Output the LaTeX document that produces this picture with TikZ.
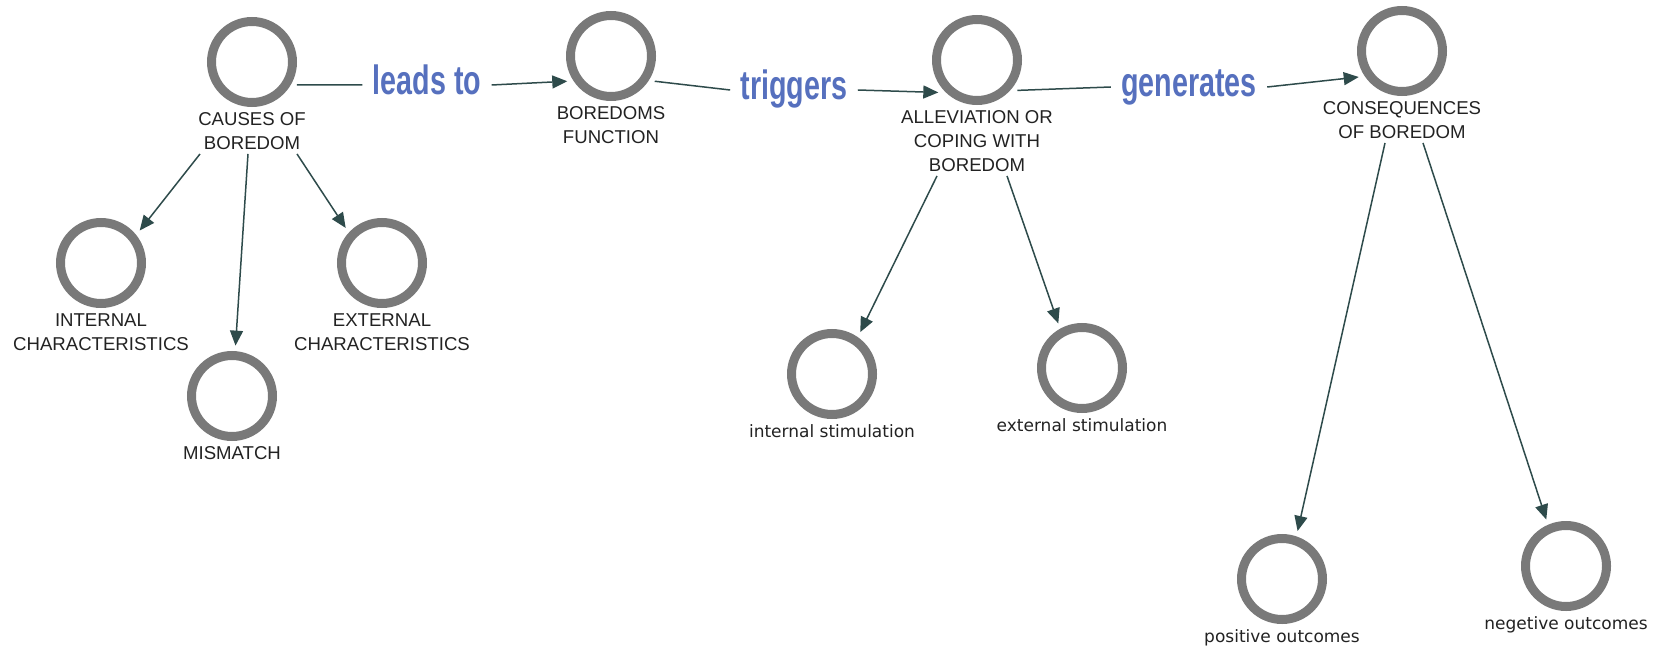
\documentclass[tikz,border=0pt]{standalone}
\usepackage{fontspec}
\setmainfont{Liberation Sans}
\newfontfamily\lowfont{DejaVu Sans}
\newfontfamily\edgefont[FakeStretch=0.7]{Liberation Sans}
\usetikzlibrary{arrows.meta,positioning}
\definecolor{ring}{HTML}{797979}
\definecolor{arr}{HTML}{2E4B4B}
\definecolor{verb}{HTML}{5670BE}
\definecolor{txt}{HTML}{222222}
\tikzset{
  ringnode/.style={circle,draw=ring,line width=4.5pt,minimum size=40.5pt,inner sep=0pt,outer sep=5pt},
  captxt/.style={align=center,inner sep=2pt,text=txt,font=\fontsize{9.3pt}{12pt}\selectfont},
  lowtxt/.style={captxt,font=\lowfont\fontsize{8.5pt}{10pt}\selectfont},
  verbl/.style={text=verb,inner xsep=5pt,inner ysep=0pt,text height=15pt,text depth=5pt,font=\edgefont\bfseries\fontsize{20.5pt}{24pt}\selectfont},
  ln/.style={draw=arr,line width=0.75pt},
  ar/.style={ln,-{Triangle[length=7.5pt,width=6.5pt]}},
}
\begin{document}
\begin{tikzpicture}[x=0.5pt,y=-0.5pt]
\useasboundingbox (0,0) rectangle (1654,647);
\node[ringnode] (causes) at (252,62) {};
\node[ringnode] (bored) at (611,56) {};
\node[ringnode] (allev) at (977,60) {};
\node[ringnode] (cons) at (1402,51) {};
\node[ringnode] (intc) at (101,263) {};
\node[ringnode] (extc) at (382,263) {};
\node[ringnode] (mism) at (232,396) {};
\node[ringnode] (intst) at (832,374) {};
\node[ringnode] (extst) at (1082,368) {};
\node[ringnode] (pos) at (1282,579) {};
\node[ringnode] (neg) at (1566,566) {};
\node[captxt,below=23pt of causes.center] (causesL) {CAUSES OF\\BOREDOM};
\node[captxt,below=23pt of bored.center] (boredL) {BOREDOMS\\FUNCTION};
\node[captxt,below=23pt of allev.center] (allevL) {ALLEVIATION OR\\COPING WITH\\BOREDOM};
\node[captxt,below=23pt of cons.center] (consL) {CONSEQUENCES\\OF BOREDOM};
\node[captxt,below=23pt of intc.center] (intcL) {INTERNAL\\CHARACTERISTICS};
\node[captxt,below=23pt of extc.center] (extcL) {EXTERNAL\\CHARACTERISTICS};
\node[captxt,below=23pt of mism.center] (mismL) {MISMATCH};
\node[lowtxt,below=23pt of intst.center] (intstL) {internal stimulation};
\node[lowtxt,below=23pt of extst.center] (extstL) {external stimulation};
\node[lowtxt,below=23pt of pos.center] (posL) {positive outcomes};
\node[lowtxt,below=23pt of neg.center] (negL) {negetive outcomes};
\node[verbl] (leads) at (427,85) {leads to};
\node[verbl] (trig) at (794,90) {triggers};
\node[verbl] (gen) at (1189,87) {generates};
\draw[ln] (causes.-27)--(leads.west); \draw[ar] (leads.east)--(bored.210);
\draw[ln] (bored.-30)--(trig.west); \draw[ar] (trig.east)--(allev.220);
\draw[ln] (allev.-37)--(gen.west); \draw[ar] (gen.east)--(cons.211);
\draw[ar] ([xshift=-26pt]causesL.south)--(intc.40);
\draw[ar] ([xshift=-2pt]causesL.south)--(mism.86);
\draw[ar] ([xshift=22.5pt]causesL.south)--(extc.136);
\draw[ar] ([xshift=-20pt]allevL.south)--(intst.56);
\draw[ar] ([xshift=15pt]allevL.south)--(extst.118);
\draw[ar] ([xshift=-8.5pt]consL.south)--(pos.72);
\draw[ar] ([xshift=10.5pt]consL.south)--(neg.113);
\end{tikzpicture}
\end{document}
